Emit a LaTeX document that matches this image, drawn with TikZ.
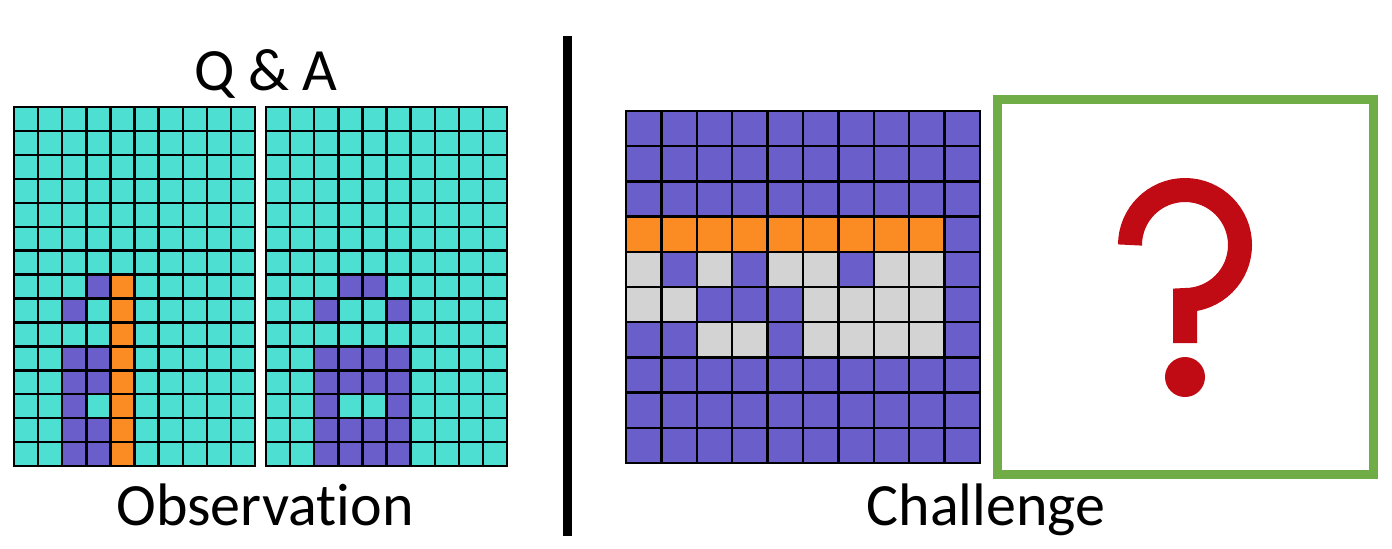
\documentclass[tikz,border=0pt]{standalone}
\usepackage{fontspec}
\setmainfont{Carlito}[Ligatures=NoCommon]
\usetikzlibrary{positioning}

\definecolor{arccyan}{HTML}{4DDFD1}
\definecolor{arcpurple}{HTML}{6A5ECA}
\definecolor{arcorange}{HTML}{FB8C23}
\definecolor{arcgrey}{HTML}{D3D3D3}
\definecolor{boxgreen}{HTML}{70AD47}
\definecolor{qred}{HTML}{C00A14}

\begin{document}
\begin{tikzpicture}[
  x=0.5pt, y=-0.5pt,
  caption/.style={font=\fontsize{30}{36}\selectfont, inner sep=0pt, anchor=base},
  gridline/.style={draw=black, line width=1.2pt, line cap=rect},
  answerbox/.style={draw=boxgreen, line width=4.5pt},
  divider/.style={draw=black, line width=4.5pt},
  qmark/.style={draw=qred, line width=12pt}
]
  \useasboundingbox (0,0) rectangle (1392,548);

  % captions
  \node[caption] (qa) at (266,90) {Q \& A};
  \node[caption] (obs) at (265,525) {Observation};
  \node[caption] (chal) at (986,525) {Challenge};

  % question grid
  \begin{scope}[shift={(14,107)}, x=12.05pt, y=-11.97pt]
    \fill[arccyan] (0,0) rectangle (10,15);
    \foreach \c/\r in {3/7,2/8,2/10,3/10,2/11,3/11,2/12,2/13,3/13,2/14,3/14}
      \fill[arcpurple] (\c,\r) rectangle ++(1,1);
    \foreach \r in {7,...,14}
      \fill[arcorange] (4,\r) rectangle ++(1,1);
    \foreach \i in {0,...,10} \draw[gridline] (\i,0) -- (\i,15);
    \foreach \j in {0,...,15} \draw[gridline] (0,\j) -- (10,\j);
  \end{scope}

  % answer grid
  \begin{scope}[shift={(266,107)}, x=12.05pt, y=-11.97pt]
    \fill[arccyan] (0,0) rectangle (10,15);
    \foreach \c/\r in {3/7,4/7,2/8,5/8,2/10,3/10,4/10,5/10,2/11,3/11,4/11,5/11,
                       2/12,5/12,2/13,3/13,4/13,5/13,2/14,3/14,4/14,5/14}
      \fill[arcpurple] (\c,\r) rectangle ++(1,1);
    \foreach \i in {0,...,10} \draw[gridline] (\i,0) -- (\i,15);
    \foreach \j in {0,...,15} \draw[gridline] (0,\j) -- (10,\j);
  \end{scope}

  % separator
  \coordinate (divtop) at (567,36);
  \coordinate (divbot) at (567,536);
  \draw[divider] (divtop) -- (divbot);

  % challenge grid
  \begin{scope}[shift={(626,111)}, x=17.7pt, y=-17.6pt]
    \fill[arcpurple] (0,0) rectangle (10,10);
    \foreach \c in {0,...,8}
      \fill[arcorange] (\c,3) rectangle ++(1,1);
    \foreach \c/\r in {0/4,2/4,4/4,5/4,7/4,8/4,0/5,1/5,5/5,6/5,7/5,8/5,
                       2/6,3/6,5/6,6/6,7/6,8/6}
      \fill[arcgrey] (\c,\r) rectangle ++(1,1);
    \foreach \i in {0,...,10} \draw[gridline] (\i,0) -- (\i,10);
    \foreach \j in {0,...,10} \draw[gridline] (0,\j) -- (10,\j);
  \end{scope}

  % unknown output
  \draw[answerbox] (997.5,99.5) rectangle (1373,474);
  \draw[qmark] (1130,245) arc[start angle=180, end angle=450, radius=55] -- (1185,343);
  \fill[qred] (1185,377) circle[radius=20];
\end{tikzpicture}
\end{document}
